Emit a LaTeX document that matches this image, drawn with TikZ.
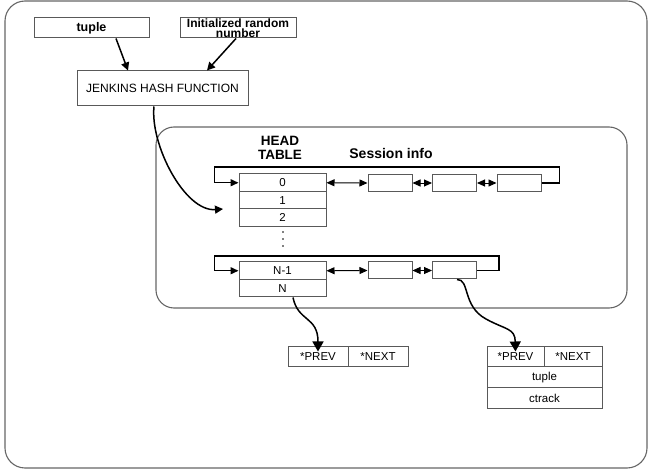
\documentclass[tikz,border=0pt]{standalone}
\usepackage{fontspec}
\setmainfont{Liberation Sans}
\usetikzlibrary{arrows.meta}
\begin{document}
\begin{tikzpicture}[x=1pt,y=-1pt,
  cell/.style={draw=black!65,line width=1pt,rectangle,inner sep=0pt,
    font=\fontsize{11.5}{12}\selectfont},
  lbl/.style={inner sep=0pt,font=\bfseries\fontsize{12}{12}\selectfont,align=center},
  frame/.style={draw=black!60,line width=1.1pt,rounded corners=20pt},
  loop/.style={draw=black,line width=1.5pt,-{Triangle[length=8pt,width=7pt]}},
  dbl/.style={draw=black,line width=0.9pt,{Triangle[length=8pt,width=7pt]}-{Triangle[length=8pt,width=7pt]}},
  feed/.style={draw=black,line width=1.5pt,-{Triangle[length=8pt,width=8pt]}},
  jump/.style={draw=black,line width=1.5pt,-{Triangle[length=10pt,width=11pt]}}]
\useasboundingbox (0,0) rectangle (649,470);

% outer frame and hash-table frame
\draw[frame] (5,1) rectangle (647,468);
\draw[frame,rounded corners=18pt] (156,127) rectangle (627,308);

% inputs and hash function
\node[cell,minimum width=115pt,minimum height=20pt,font=\bfseries\fontsize{12.5}{12}\selectfont] (tuple) at (91.5,28) {tuple};
\node[cell,minimum width=116pt,minimum height=20pt,align=center,font=\bfseries\fontsize{12}{10.5}\selectfont] (rnd) at (238,28) {Initialized random\\number};
\node[cell,minimum width=171pt,minimum height=35pt,font=\fontsize{12}{12}\selectfont] (hash) at (162.5,88.5) {JENKINS HASH FUNCTION};

\draw[feed] ([xshift=24.5pt]tuple.south) -- ([xshift=-34.5pt]hash.north);
\draw[feed] ([xshift=-2pt]rnd.south) -- ([xshift=44.5pt]hash.north);

% headings
\node[lbl,font=\bfseries\fontsize{13.5}{14}\selectfont] (headt) at (280,148) {HEAD\\TABLE};
\node[lbl,font=\bfseries\fontsize{14}{14}\selectfont] (sinfo) at (391,153) {Session info};

% head table
\foreach \n/\t/\y in {h0/0/182.75, h1/1/200.25, h2/2/217.75, hn1/N-1/270.75, hn/N/288.25}
  \node[cell,minimum width=87pt,minimum height=17.5pt] (\n) at (282.5,\y) {\t};
\foreach \y in {232,239,246}
  \fill (283,\y) circle (0.9pt);

% session entries
\foreach \n/\x in {s1/390, s2/454.5, s3/519}
  \node[cell,minimum width=44pt,minimum height=17pt] (\n) at (\x,183) {};
\foreach \n/\x in {t1/390, t2/454.5}
  \node[cell,minimum width=44pt,minimum height=17pt] (\n) at (\x,270.5) {};

\draw[dbl] (h0.east) -- (s1.west);
\draw[dbl] (s1.east) -- (s2.west);
\draw[dbl] (s2.east) -- (s3.west);
\draw[dbl] (hn1.east) -- (t1.west);
\draw[dbl] (t1.east) -- (t2.west);

% circular links back to the bucket heads
\draw[loop] (s3.east) -- ++(18,0) -- ++(0,-16) -| ([xshift=-24pt]h0.west) -- (h0.west);
\draw[loop] (t2.east) -- ++(22,0) -- ++(0,-14.5) -| ([xshift=-24pt]hn1.west) -- (hn1.west);

% hash result into the table
\coordinate (hin) at (223,209);
\draw[feed] ([xshift=-8.5pt]hash.south) .. controls (150,145) and (185,212) .. (hin);

% node layouts
\node[cell,minimum width=60pt,minimum height=20pt] (p1) at (318,357) {*PREV};
\node[cell,minimum width=60pt,minimum height=20pt] (n1) at (378,357) {*NEXT};
\node[cell,minimum width=57pt,minimum height=20pt] (p2) at (515.5,357) {*PREV};
\node[cell,minimum width=58pt,minimum height=20pt] (n2) at (573,357) {*NEXT};
\node[cell,minimum width=115pt,minimum height=21pt] (tp) at (544.5,377.5) {tuple};
\node[cell,minimum width=115pt,minimum height=21pt] (ct) at (544.5,398.5) {ctrack};

\draw[jump] ([xshift=10.5pt]hn.south) .. controls (298,322) and (318,316) .. ([yshift=-5pt]p1.north);
\draw[jump] ([xshift=2.5pt]t2.south) .. controls (470,279) and (462,306) .. (486,319)
  .. controls (506,330) and (515,328) .. ([yshift=-5pt]p2.north);
\end{tikzpicture}
\end{document}
